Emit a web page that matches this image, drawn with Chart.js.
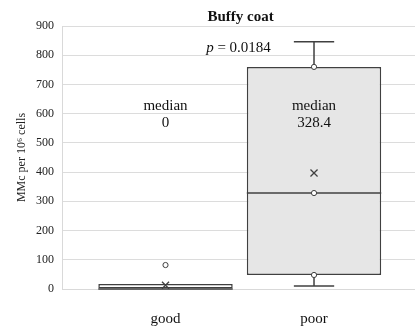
<!DOCTYPE html>
<html>
<head>
<meta charset="utf-8">
<script src="https://cdn.jsdelivr.net/npm/chart.js@4"></script>
<style>
  html, body { margin: 0; padding: 0; background: #fff; }
  #wrap { width: 415px; height: 328px; }
</style>
</head>
<body>
<div id="wrap"><canvas id="c"></canvas></div>
<script>
// data
const groups = ["good", "poor"];
const q1 = [0, 48];
const q3 = [17, 760];
const medians = [0, 328.4];
const mins = [0, 10];
const maxs = [17, 846];
const means = [13, 397];
const innerPoints = [[], [48, 328.4, 760]];
const outliers = [[82], []];
const medianLabels = ["0", "328.4"];
const yTicks = [0, 100, 200, 300, 400, 500, 600, 700, 800, 900];

const SERIF = "'Liberation Serif', 'DejaVu Serif', serif";
const DARK = "#404040";

const pts = (lists) => lists.flatMap((l, i) => l.map(v => ({ x: i + 1, y: v })));

// whiskers, medians and the text on top
const boxExtras = {
  id: "boxExtras",
  afterDatasetDraw(chart, args) {
    if (args.index !== 0) return;
    const { ctx, scales: { y } } = chart;
    ctx.save();
    ctx.strokeStyle = DARK;
    ctx.lineWidth = 1.5;
    chart.getDatasetMeta(0).data.forEach((bar, i) => {
      const half = bar.width / 2;
      const cap = bar.width * 0.15;
      const ym = y.getPixelForValue(medians[i]);
      ctx.beginPath();
      ctx.moveTo(bar.x - half, ym);
      ctx.lineTo(bar.x + half, ym);
      ctx.stroke();
      // upper whisker
      if (maxs[i] > q3[i]) {
        const a = y.getPixelForValue(q3[i]), b = y.getPixelForValue(maxs[i]);
        ctx.beginPath();
        ctx.moveTo(bar.x, a); ctx.lineTo(bar.x, b);
        ctx.moveTo(bar.x - cap, b); ctx.lineTo(bar.x + cap, b);
        ctx.stroke();
      }
      // lower whisker
      if (mins[i] < q1[i]) {
        const a = y.getPixelForValue(q1[i]), b = y.getPixelForValue(mins[i]);
        ctx.beginPath();
        ctx.moveTo(bar.x, a); ctx.lineTo(bar.x, b);
        ctx.moveTo(bar.x - cap, b); ctx.lineTo(bar.x + cap, b);
        ctx.stroke();
      }
    });
    ctx.restore();
  },
  afterDraw(chart) {
    const { ctx, chartArea, scales: { x, y } } = chart;
    ctx.save();
    ctx.fillStyle = "#111";
    ctx.textAlign = "center";
    ctx.textBaseline = "middle";
    const cx = (chartArea.left + chartArea.right) / 2;
    ctx.font = "bold 15px " + SERIF;
    ctx.fillText("Buffy coat", cx + 2, 17);

    // p value, italic p
    ctx.font = "15px " + SERIF;
    const rest = " = 0.0184";
    const restW = ctx.measureText(rest).width;
    ctx.font = "italic 15px " + SERIF;
    const pW = ctx.measureText("p").width;
    let sx = cx - (pW + restW) / 2;
    ctx.textAlign = "left";
    ctx.fillText("p", sx, y.getPixelForValue(823));
    ctx.font = "15px " + SERIF;
    ctx.fillText(rest, sx + pW, y.getPixelForValue(823));

    ctx.textAlign = "center";
    groups.forEach((g, i) => {
      const px = x.getPixelForValue(i + 1);
      ctx.fillText("median", px, y.getPixelForValue(626));
      ctx.fillText(medianLabels[i], px, y.getPixelForValue(568));
    });
    ctx.restore();
  }
};

new Chart(document.getElementById("c"), {
  data: {
    datasets: [
      {
        type: "bar",
        order: 3,
        data: groups.map((g, i) => ({ x: i + 1, y: [q1[i], q3[i]] })),
        backgroundColor: ["#ffffff", "#e6e6e6"],
        borderColor: DARK,
        borderWidth: 1.5,
        borderSkipped: false,
        categoryPercentage: 1,
        barPercentage: 0.905
      },
      {
        type: "scatter",
        order: 2,
        data: pts(innerPoints).concat(pts(outliers)),
        pointStyle: "circle",
        pointRadius: 2.6,
        backgroundColor: "#fff",
        borderColor: DARK,
        borderWidth: 1
      },
      {
        type: "scatter",
        order: 1,
        data: means.map((v, i) => ({ x: i + 1, y: v })),
        pointStyle: "crossRot",
        pointRadius: 5,
        borderColor: DARK,
        borderWidth: 1.3
      }
    ]
  },
  options: {
    responsive: true,
    maintainAspectRatio: false,
    animation: false,
    layout: { autoPadding: false, padding: { top: 26, right: 0, bottom: 0, left: 0 } },
    plugins: { legend: { display: false }, tooltip: { enabled: false }, title: { display: false } },
    scales: {
      x: {
        type: "linear",
        offset: false,
        min: 0.303,
        max: 2.68,
        afterBuildTicks: (axis) => { axis.ticks = groups.map((g, i) => ({ value: i + 1 })); },
        afterFit: (axis) => { axis.height = 39; axis.paddingLeft = 0; axis.paddingRight = 0; },
        ticks: {
          callback: (v) => groups[v - 1],
          padding: 13,
          maxRotation: 0,
          color: "#111",
          font: { family: SERIF, size: 15 }
        },
        grid: { display: false, offset: false },
        border: { color: "#d9d9d9", width: 1 }
      },
      y: {
        min: 0,
        max: 900,
        afterBuildTicks: (axis) => { axis.ticks = yTicks.map(v => ({ value: v })); },
        afterFit: (axis) => { axis.width = 62; },
        ticks: { padding: 8, color: "#222", font: { family: SERIF, size: 12 } },
        grid: { color: "#dcdcdc", lineWidth: 1, drawTicks: false },
        border: { color: "#d9d9d9", width: 1 },
        title: {
          display: true,
          text: "MMc per 10\u2076 cells",
          color: "#222",
          font: { family: SERIF, size: 12 },
          padding: { top: 15, bottom: 6 }
        }
      }
    }
  },
  plugins: [boxExtras]
});
</script>
</body>
</html>
